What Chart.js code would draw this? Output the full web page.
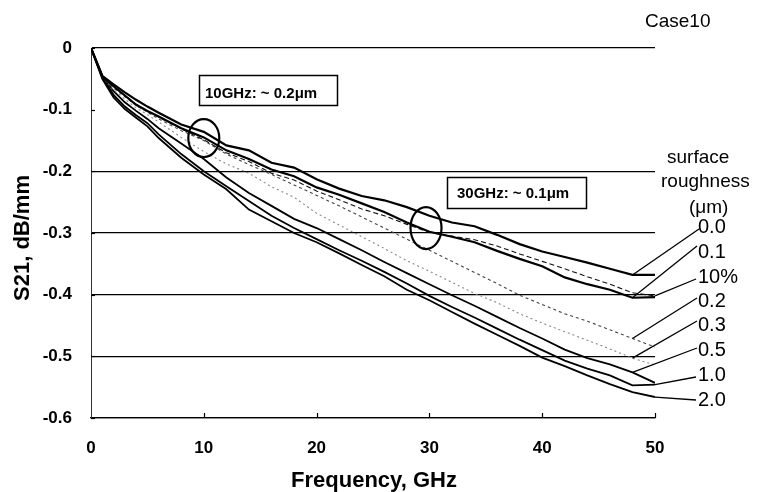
<!DOCTYPE html>
<html><head><meta charset="utf-8">
<script src="https://cdn.jsdelivr.net/npm/chart.js@4.4.1/dist/chart.umd.min.js"></script>
<style>html,body{margin:0;padding:0;background:#fff;overflow:hidden}</style>
</head><body>
<canvas id="c" width="766" height="492"></canvas>
<script>
// ---- data ----
const freq = [0,1,2,3,4,5,6,8,10,12,14,16,18,20,22,24,26,28,30,32,34,36,38,40,42,44,46,48,50];
const rough00 = [0,-0.045,-0.059,-0.072,-0.084,-0.095,-0.105,-0.124,-0.136,-0.158,-0.166,-0.186,-0.194,-0.213,-0.228,-0.240,-0.247,-0.258,-0.272,-0.283,-0.289,-0.303,-0.318,-0.330,-0.339,-0.348,-0.358,-0.368,-0.368];
const rough01 = [0,-0.046,-0.062,-0.077,-0.092,-0.102,-0.111,-0.130,-0.145,-0.166,-0.180,-0.197,-0.208,-0.226,-0.238,-0.252,-0.266,-0.283,-0.298,-0.306,-0.315,-0.329,-0.342,-0.354,-0.372,-0.383,-0.392,-0.405,-0.404];
const tenPct  = [0,-0.047,-0.063,-0.077,-0.091,-0.102,-0.112,-0.131,-0.149,-0.170,-0.184,-0.203,-0.214,-0.232,-0.246,-0.261,-0.272,-0.286,-0.299,-0.305,-0.311,-0.321,-0.334,-0.346,-0.358,-0.371,-0.383,-0.397,-0.402];
const rough02 = [0,-0.047,-0.065,-0.079,-0.093,-0.104,-0.115,-0.134,-0.150,-0.172,-0.189,-0.205,-0.222,-0.239,-0.256,-0.274,-0.292,-0.310,-0.328,-0.346,-0.364,-0.382,-0.401,-0.416,-0.431,-0.443,-0.457,-0.471,-0.485];
const rough03 = [0,-0.046,-0.068,-0.083,-0.097,-0.108,-0.120,-0.145,-0.168,-0.188,-0.203,-0.225,-0.242,-0.268,-0.287,-0.306,-0.325,-0.345,-0.362,-0.380,-0.398,-0.413,-0.431,-0.446,-0.460,-0.474,-0.488,-0.503,-0.514];
const rough05 = [0,-0.045,-0.070,-0.088,-0.102,-0.115,-0.130,-0.155,-0.180,-0.210,-0.235,-0.256,-0.277,-0.292,-0.310,-0.328,-0.347,-0.365,-0.383,-0.401,-0.418,-0.436,-0.454,-0.471,-0.489,-0.503,-0.513,-0.526,-0.543];
const rough10 = [0,-0.048,-0.076,-0.095,-0.109,-0.122,-0.140,-0.172,-0.200,-0.224,-0.248,-0.272,-0.292,-0.310,-0.328,-0.345,-0.363,-0.382,-0.402,-0.420,-0.437,-0.455,-0.473,-0.490,-0.507,-0.520,-0.531,-0.547,-0.546];
const rough20 = [0,-0.050,-0.080,-0.099,-0.113,-0.127,-0.146,-0.178,-0.205,-0.229,-0.262,-0.281,-0.300,-0.315,-0.333,-0.352,-0.370,-0.392,-0.409,-0.428,-0.447,-0.465,-0.483,-0.502,-0.516,-0.531,-0.545,-0.558,-0.566];
const seriesNames = ['0.0','0.1','10%','0.2','0.3','0.5','1.0','2.0'];
const leaderFreq = [48,48,50,48,48,48,50,50];
const xTicks = [0,10,20,30,40,50];
const yTicks = [0,-0.1,-0.2,-0.3,-0.4,-0.5,-0.6];
const notes = ['10GHz: ~ 0.2μm','30GHz: ~ 0.1μm'];
const circleAt = [[10,-0.146],[29.7,-0.292]];

const FONT = '"Liberation Sans", Arial, Helvetica, sans-serif';
const allSeries = [rough00,rough01,tenPct,rough02,rough03,rough05,rough10,rough20];
const styles = [
  {c:'#000', w:2.2, d:[]},
  {c:'#000', w:2.2, d:[]},
  {c:'#111', w:1.1, d:[5,3]},
  {c:'#444', w:1.1, d:[3,3]},
  {c:'#888', w:1.1, d:[2,3]},
  {c:'#000', w:1.8, d:[]},
  {c:'#000', w:1.8, d:[]},
  {c:'#000', w:1.8, d:[]}
];
const datasets = allSeries.map((vals,i)=>({
  label: seriesNames[i],
  data: freq.map((f,k)=>({x:f,y:vals[k]})),
  borderColor: styles[i].c,
  borderWidth: styles[i].w,
  borderDash: styles[i].d,
  pointRadius: 0,
  tension: 0,
  fill: false
}));

const decor = {
  id:'decor',
  afterDraw(chart){
    const {ctx, scales:{x,y}, chartArea:a} = chart;
    ctx.save();
    // inward tick marks
    ctx.strokeStyle='#000'; ctx.lineWidth=1.2; ctx.setLineDash([]);
    xTicks.forEach(v=>{ if(v===0) return; const px=Math.round(x.getPixelForValue(v))+0.5;
      ctx.beginPath(); ctx.moveTo(px,a.bottom); ctx.lineTo(px,a.bottom-5); ctx.stroke(); });
    yTicks.forEach(v=>{ const py=Math.round(y.getPixelForValue(v))+0.5;
      ctx.beginPath(); ctx.moveTo(a.left,py); ctx.lineTo(a.left+4,py); ctx.stroke(); });
    // circles
    ctx.lineWidth=2.2;
    const radii=[[15.5,19],[15.5,21]];
    circleAt.forEach((p,i)=>{
      ctx.beginPath();
      ctx.ellipse(x.getPixelForValue(p[0]), y.getPixelForValue(p[1]), radii[i][0], radii[i][1], 0, 0, Math.PI*2);
      ctx.stroke();
    });
    // note boxes
    const boxes=[{l:199,t:75,w:138,h:30,tx:205,ty:98},{l:447,t:177,w:139,h:31,tx:457,ty:198}];
    ctx.font='bold 15px '+FONT; ctx.fillStyle='#000'; ctx.textAlign='left'; ctx.textBaseline='alphabetic';
    boxes.forEach((b,i)=>{
      ctx.fillStyle='#fff'; ctx.fillRect(b.l,b.t,b.w,b.h);
      ctx.lineWidth=1.5; ctx.strokeStyle='#000'; ctx.strokeRect(b.l+0.5,b.t+0.5,b.w,b.h);
      ctx.fillStyle='#000'; ctx.fillText(notes[i], b.tx, b.ty);
    });
    // axis titles
    ctx.font='bold 22px '+FONT; ctx.textAlign='center';
    ctx.fillText('Frequency, GHz', 374, 487);
    ctx.save(); ctx.translate(29,238); ctx.rotate(-Math.PI/2);
    ctx.fillText('S21, dB/mm', 0, 0); ctx.restore();
    // case label
    ctx.font='19px '+FONT; ctx.textAlign='left';
    ctx.fillText('Case10', 645, 27);
    // legend header
    ctx.font='19px '+FONT;
    ctx.fillText('surface', 667, 163);
    ctx.fillText('roughness', 661, 187);
    ctx.fillText('(μm)', 689, 213);
    // series labels with leaders
    const base=[233,258,283,307,331,356,381,406];
    const starts=[[699,229],[697,246],[696,279],[697,298],[697,321],[697,348],[696,377],[696,400]];
    ctx.font='20px '+FONT;
    ctx.lineWidth=1.3;
    seriesNames.forEach((n,i)=>{
      ctx.fillText(n, 698, base[i]);
      const k=freq.indexOf(leaderFreq[i]);
      const ex=x.getPixelForValue(freq[k]), ey=y.getPixelForValue(allSeries[i][k]);
      ctx.beginPath(); ctx.moveTo(starts[i][0],starts[i][1]); ctx.lineTo(ex,ey); ctx.stroke();
    });
    ctx.restore();
  }
};

new Chart(document.getElementById('c'), {
  type:'line',
  data:{datasets},
  options:{
    responsive:false, animation:false, devicePixelRatio:1,
    layout:{padding:{left:0,top:48,right:111,bottom:0}},
    plugins:{legend:{display:false}, tooltip:{enabled:false}},
    scales:{
      x:{type:'linear', min:0, max:50,
        afterBuildTicks:s=>{s.ticks=xTicks.map(v=>({value:v}));},
        ticks:{color:'#000', padding:20, font:{family:FONT, size:17, weight:'bold'}, maxRotation:0},
        grid:{display:false, drawTicks:false},
        border:{display:true, color:'#000', width:1.2},
        afterFit:s=>{s.height=74;}
      },
      y:{type:'linear', min:-0.6, max:0,
        afterBuildTicks:s=>{s.ticks=yTicks.map(v=>({value:v}));},
        ticks:{color:'#000', padding:19, font:{family:FONT, size:17, weight:'bold'},
          callback:v=>Math.abs(v)<1e-9?'0':v.toFixed(1)},
        grid:{drawTicks:false, lineWidth:1.2,
          color:c=>(c.tick && Math.abs(c.tick.value+0.1)<1e-6)?'rgba(0,0,0,0)':'#000'},
        border:{display:true, color:'#333', width:1},
        afterFit:s=>{s.width=91;}
      }
    }
  },
  plugins:[decor]
});
</script>
</body></html>
